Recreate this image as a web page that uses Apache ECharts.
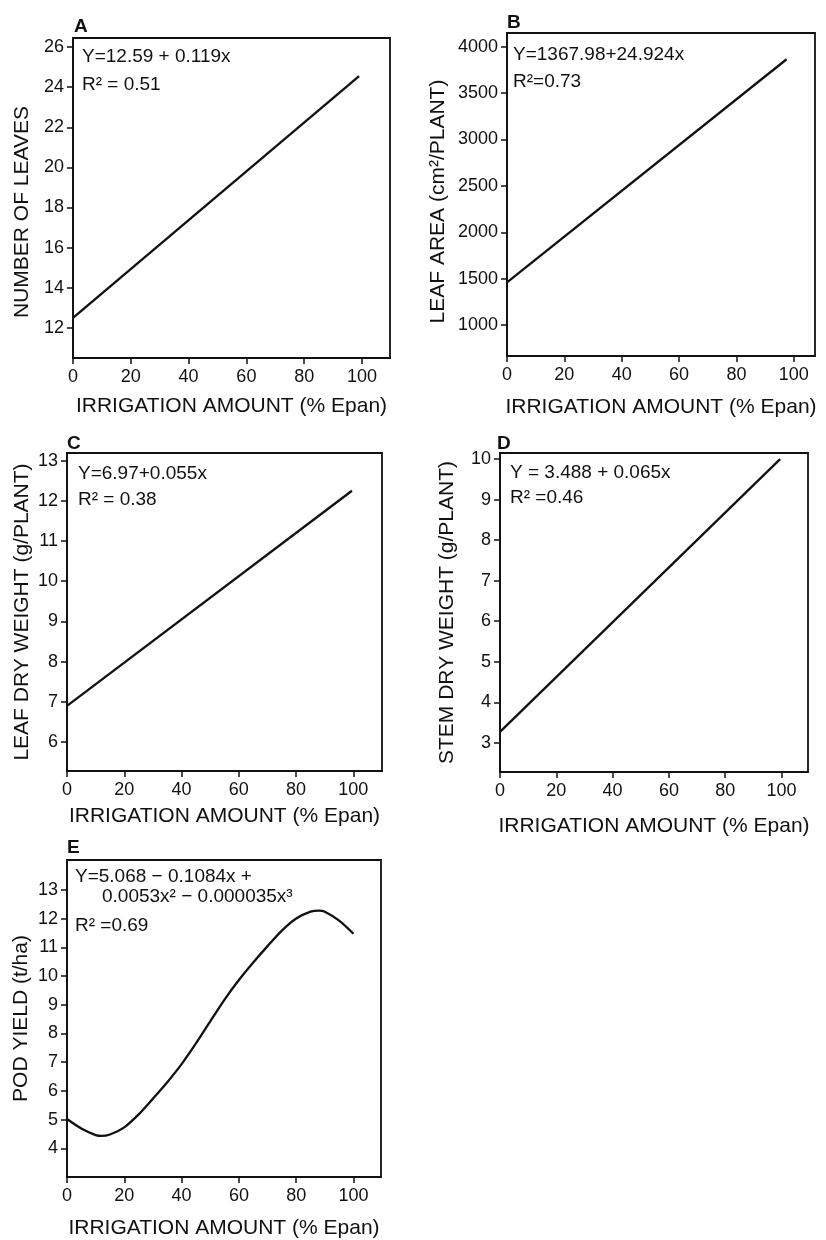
<!DOCTYPE html>
<html>
<head>
<meta charset="utf-8">
<script src="https://cdn.jsdelivr.net/npm/echarts@6/dist/echarts.min.js"></script>
<style>
html,body{margin:0;padding:0;background:#fff;}
#chart{width:826px;height:1240px;}
</style>
</head>
<body>
<div id="chart"></div>
<script>
// ---- data ----
const xTicks = [0, 20, 40, 60, 80, 100];

const leavesX = [0, 99];
const leavesY = [12.5, 24.55];
const leavesTicks = [12, 14, 16, 18, 20, 22, 24, 26];

const areaX = [0, 97.5];
const areaY = [1460, 3865];
const areaTicks = [1000, 1500, 2000, 2500, 3000, 3500, 4000];

const leafWtX = [0, 99.5];
const leafWtY = [6.9, 12.25];
const leafWtTicks = [6, 7, 8, 9, 10, 11, 12, 13];

const stemX = [0, 99.5];
const stemY = [3.27, 10.0];
const stemTicks = [3, 4, 5, 6, 7, 8, 9, 10];

const yieldX = [0, 5, 10, 12, 15, 20, 25, 30, 35, 40, 45, 50, 55, 60, 65, 70, 75, 80, 85, 88, 90, 95, 100];
const yieldY = [5.02, 4.69, 4.46, 4.43, 4.48, 4.73, 5.18, 5.73, 6.3, 6.93, 7.65, 8.42, 9.18, 9.86, 10.47, 11.04, 11.58, 12.0, 12.24, 12.28, 12.24, 11.93, 11.47];
const yieldTicks = [4, 5, 6, 7, 8, 9, 10, 11, 12, 13];

const xName = 'IRRIGATION AMOUNT (% Epan)';
const yNames = ['NUMBER OF LEAVES', 'LEAF AREA (cm²/PLANT)', 'LEAF DRY WEIGHT (g/PLANT)', 'STEM DRY WEIGHT (g/PLANT)', 'POD YIELD (t/ha)'];
const panelLetters = ['A', 'B', 'C', 'D', 'E'];
const equations = [
  ['Y=12.59 + 0.119x', 'R² = 0.51'],
  ['Y=1367.98+24.924x', 'R²=0.73'],
  ['Y=6.97+0.055x', 'R² = 0.38'],
  ['Y = 3.488 + 0.065x', 'R² =0.46'],
  ['Y=5.068 − 0.1084x +', '0.0053x² − 0.000035x³', 'R² =0.69']
];

// ---- layout ----
const FONT = 'Liberation Sans';
const grids = [
  {left: 73, top: 38, width: 317, height: 320},
  {left: 507, top: 33, width: 308, height: 323},
  {left: 67, top: 453, width: 315, height: 318},
  {left: 500, top: 453, width: 308, height: 319},
  {left: 67, top: 860, width: 314, height: 319}
];
const xMax = [109.7, 107.4, 110, 109.4, 109.6];
const yRange = [[10.5, 26.45], [666, 4148], [5.28, 13.19], [2.28, 10.15], [3.0, 14.04]];
const yTickSets = [leavesTicks, areaTicks, leafWtTicks, stemTicks, yieldTicks];
const yNameGap = [40, 58, 34, 42, 35];
const yNamePad = [[0, 28, 0, 0], [0, 14, 0, 0], [0, 0, 0, 0], [0, 0, 0, 0], [0, 0, 0, 0]];
const xNameGap = [38, 41, 35, 44, 41];
const seriesData = [
  [leavesX, leavesY], [areaX, areaY], [leafWtX, leafWtY], [stemX, stemY], [yieldX, yieldY]
];

const lineW = 1.8;
const option = {
  animation: false,
  backgroundColor: '#fff',
  textStyle: {fontFamily: FONT, color: '#111'},
  grid: grids.map(g => Object.assign({show: true, borderColor: '#111', borderWidth: lineW, backgroundColor: 'transparent', containLabel: false}, g)),
  xAxis: grids.map((g, i) => ({
    type: 'value', gridIndex: i, min: 0, max: xMax[i],
    name: xName, nameLocation: 'middle', nameGap: xNameGap[i],
    nameTextStyle: {fontFamily: FONT, fontSize: 21, color: '#111'},
    axisLine: {show: true, onZero: false, lineStyle: {color: '#111', width: lineW}},
    axisTick: {show: true, inside: false, length: 6, customValues: xTicks, lineStyle: {color: '#111', width: 1.5}},
    axisLabel: {show: true, margin: 10, customValues: xTicks, formatter: v => String(v), fontFamily: FONT, fontSize: 18, color: '#111'},
    splitLine: {show: false}
  })),
  yAxis: grids.map((g, i) => ({
    type: 'value', gridIndex: i, min: yRange[i][0], max: yRange[i][1],
    name: yNames[i], nameLocation: 'middle', nameGap: yNameGap[i], nameRotate: 90,
    nameTextStyle: {fontFamily: FONT, fontSize: 21, color: '#111', padding: yNamePad[i]},
    axisLine: {show: true, onZero: false, lineStyle: {color: '#111', width: lineW}},
    axisTick: {show: true, inside: false, length: 6, customValues: yTickSets[i], lineStyle: {color: '#111', width: 1.5}},
    axisLabel: {show: true, margin: 9, customValues: yTickSets[i], formatter: v => String(v), fontFamily: FONT, fontSize: 18, color: '#111'},
    splitLine: {show: false}
  })),
  series: seriesData.map((d, i) => ({
    type: 'line', xAxisIndex: i, yAxisIndex: i,
    data: d[0].map((x, k) => [x, d[1][k]]),
    showSymbol: false, symbol: 'none',
    smooth: i === 4 ? 0.3 : false,
    lineStyle: {color: '#111', width: 2.3}
  })),
  graphic: []
};

// panel letters and equations
const letterPos = [[74, 17], [507, 13], [67, 434], [497, 434], [67, 838]];
panelLetters.forEach((t, i) => {
  option.graphic.push({type: 'text', left: letterPos[i][0], top: letterPos[i][1],
    style: {text: t, font: 'bold 19px "' + FONT + '"', fill: '#111'}});
});
const eqPos = [
  [[82, 47], [82, 75]],
  [[513, 45], [513, 72]],
  [[78, 464], [78, 490]],
  [[510, 463], [510, 488]],
  [[75, 867], [102, 887], [75, 916]]
];
equations.forEach((lines, i) => {
  lines.forEach((t, k) => {
    option.graphic.push({type: 'text', left: eqPos[i][k][0], top: eqPos[i][k][1],
      style: {text: t, font: '19px "' + FONT + '"', fill: '#111'}});
  });
});

const chart = echarts.init(document.getElementById('chart'), null, {renderer: 'canvas'});
chart.setOption(option);
</script>
</body>
</html>
